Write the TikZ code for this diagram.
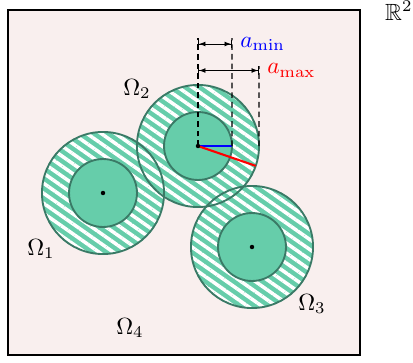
\documentclass[tikz,border=0pt]{standalone}
\usepackage{amsmath,amssymb}
\usetikzlibrary{arrows.meta, positioning, patterns.meta}
\definecolor{discgreen}{RGB}{102,205,170}
\definecolor{rimgreen}{RGB}{58,122,102}
\definecolor{planepink}{RGB}{249,239,238}
\tikzset{
  disc/.style={circle, inner sep=0pt, outer sep=0pt},
  ring/.style={disc, minimum size=52.1pt, fill=discgreen},
  hatch/.style={disc, minimum size=52.1pt,
    pattern={Lines[angle=-35, distance=3.5pt, line width=1.5pt]},
    pattern color=white},
  core/.style={disc, minimum size=29pt, fill=discgreen},
  rim/.style={disc, minimum size=52.1pt, draw=rimgreen, line width=0.8pt},
  rimin/.style={rim, minimum size=29pt},
  dot/.style={disc, minimum size=1.9pt, fill=black},
  guide/.style={dash pattern=on 2.4pt off 1.7pt, line width=0.5pt},
  dimarr/.style={{Bar[width=3.5pt]Latex[length=2.8pt]}-{Latex[length=2.8pt]Bar[width=3.5pt]},
    line width=0.4pt},
  radius line/.style={line width=0.9pt}
}

\begin{document}
\begin{tikzpicture}[x=0.015cm, y=-0.015cm]
  \useasboundingbox (0,0) rectangle (413,363);

  %% -- the plane -------------------------------------------
  \draw[fill=planepink, line width=0.45pt] (8,10) rectangle (360,355);
  \node[anchor=base east, inner sep=0pt] (R2) at (413,20) {$\mathbb{R}^2$};

  %% -- centres ---------------------------------------------
  \coordinate (c1) at (103,193);
  \coordinate (c2) at (198,146);
  \coordinate (c3) at (252,247);

  %% -- green discs, white stripes, then solid cores ---------
  \node[ring]  (o1) at (c1) {};
  \node[ring]  (o2) at (c2) {};
  \node[ring]  (o3) at (c3) {};
  \node[hatch] (h1) at (c1) {};
  \node[hatch] (h2) at (c2) {};
  \node[hatch] (h3) at (c3) {};
  \node[core]  (i1) at (c1) {};
  \node[core]  (i2) at (c2) {};
  \node[core]  (i3) at (c3) {};

  %% -- outlines on top (overlaps stay visible) --------------
  \node[rim]   (r1) at (c1) {};
  \node[rim]   (r2) at (c2) {};
  \node[rim]   (r3) at (c3) {};
  \node[rimin] (s1) at (c1) {};
  \node[rimin] (s2) at (c2) {};
  \node[rimin] (s3) at (c3) {};

  %% -- radii of the middle disc ----------------------------
  \draw[radius line, blue] (c2) -- (i2.east);
  \draw[radius line, red]  (c2) -- (o2.-19);

  \node[dot] (d1) at (c1) {};
  \node[dot] (d2) at (c2) {};
  \node[dot] (d3) at (c3) {};

  %% -- dimension lines -------------------------------------
  \coordinate (t0) at (198,38);
  \coordinate (t1) at (232,38);
  \coordinate (t2) at (259,66);
  \draw[guide] (c2)      -- (t0);
  \draw[guide] (i2.east) -- (t1);
  \draw[guide] (o2.east) -- (t2);

  \coordinate (ma0) at (198,44);
  \coordinate (ma1) at (232,44);
  \coordinate (mb0) at (198,70.5);
  \coordinate (mb1) at (259,70.5);
  \draw[dimarr] (ma0) -- (ma1) node[right, text=blue] (amin) {$a_{\min}$};
  \draw[dimarr] (mb0) -- (mb1) node[right, text=red]  (amax) {$a_{\max}$};

  %% -- region labels ---------------------------------------
  \node (om1) at (41,249)  {$\Omega_1$};
  \node (om2) at (137,89)  {$\Omega_2$};
  \node (om3) at (312,304) {$\Omega_3$};
  \node (om4) at (130,328) {$\Omega_4$};

\end{tikzpicture}
\end{document}
